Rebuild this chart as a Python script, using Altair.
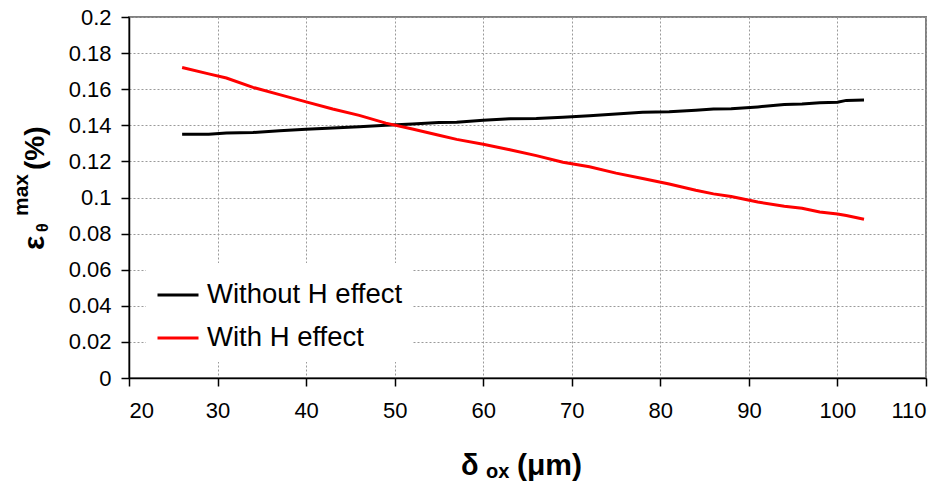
import altair as alt
import pandas as pd

# Oxide thickness (µm) and maximum hoop strain (%) for both cases
delta_ox = [26, 29, 31, 34, 37, 40, 43, 46, 49, 52, 55, 57, 60, 63, 66,
            69, 72, 75, 78, 81, 84, 86, 88, 91, 94, 96, 98, 100, 101, 103]
strain_without_h = [0.1350, 0.1350, 0.1358, 0.1360, 0.1370, 0.1378, 0.1385,
                    0.1392, 0.1400, 0.1407, 0.1415, 0.1417, 0.1428, 0.1436,
                    0.1437, 0.1445, 0.1453, 0.1462, 0.1472, 0.1475, 0.1483,
                    0.1490, 0.1492, 0.1502, 0.1515, 0.1518, 0.1525, 0.1528,
                    0.1538, 0.1540]
strain_with_h = [0.1720, 0.1685, 0.1662, 0.1610, 0.1570, 0.1530, 0.1490,
                 0.1455, 0.1412, 0.1380, 0.1345, 0.1322, 0.1295, 0.1265,
                 0.1232, 0.1195, 0.1170, 0.1135, 0.1105, 0.1075, 0.1040,
                 0.1020, 0.1005, 0.0975, 0.0952, 0.0940, 0.0920, 0.0908,
                 0.0900, 0.0880]
series_names = ["Without H effect", "With H effect"]
series_colors = ["#000000", "#ff0000"]
x_ticks = [20, 30, 40, 50, 60, 70, 80, 90, 100, 110]
y_ticks = [0, 0.02, 0.04, 0.06, 0.08, 0.1, 0.12, 0.14, 0.16, 0.18, 0.2]

rows = []
for name, vals in zip(series_names, [strain_without_h, strain_with_h]):
    for x, y in zip(delta_ox, vals):
        rows.append({"delta": x, "strain": y, "series": name})
df = pd.DataFrame(rows)

FONT = "Liberation Sans"
W, H = 797, 361
PAD_L, PAD_T = 129, 17

axis_style = dict(
    labelFont=FONT, labelFontSize=22, labelColor="black",
    domainColor="black", domainWidth=1.5,
    tickColor="black", tickWidth=1.5, tickSize=8,
    gridColor="#9a9a9a", gridDash=[2, 2], gridWidth=1,
)

lines = alt.Chart(df).mark_line(strokeWidth=3).encode(
    x=alt.X("delta:Q",
            scale=alt.Scale(domain=[20, 110], nice=False, zero=False),
            axis=alt.Axis(values=x_ticks, title=None, labelPadding=14,
                          **axis_style)),
    y=alt.Y("strain:Q",
            scale=alt.Scale(domain=[0, 0.2], nice=False),
            axis=alt.Axis(values=y_ticks, title=None, format="~g",
                          labelPadding=10, **axis_style)),
    color=alt.Color("series:N",
                    scale=alt.Scale(domain=series_names, range=series_colors),
                    legend=alt.Legend(title=None, orient="none",
                                      legendX=17, legendY=246,
                                      fillColor="white", padding=10,
                                      symbolType="stroke", symbolSize=1681,
                                      symbolStrokeWidth=3, labelFontSize=27.5,
                                      labelFont=FONT, labelColor="black",
                                      labelLimit=0,
                                      labelOffset=7, rowPadding=7)),
    order=alt.Order("delta:Q"),
)


def label(text, px, py, size, angle=0, align="left"):
    """Place a piece of axis-title text (baseline anchored) at a pixel position."""
    return alt.Chart(pd.DataFrame({"t": [text]})).mark_text(
        font=FONT, fontWeight="bold", fontSize=size, angle=angle,
        align=align, baseline="alphabetic", color="black",
    ).encode(
        x=alt.value(px - PAD_L), y=alt.value(py - PAD_T), text="t:N"
    )


# y title: epsilon_theta^max (%), reading bottom-to-top
y_title = [
    label("ε", 44, 250, 30, 270),
    label("θ", 48, 232, 16, 270),
    label("max", 28, 216, 21, 270),
    label("(%)", 44, 170, 28, 270),
]
# x title: delta_ox (µm)
x_title = [
    label("δ", 461, 475, 29),
    label("ox", 486, 478, 20),
    label("(μm)", 517, 475, 30),
]

chart = alt.layer(lines, *y_title, *x_title).properties(
    width=W, height=H,
    autosize=alt.AutoSizeParams(type="none"),
    padding={"left": PAD_L, "top": PAD_T, "right": 950 - PAD_L - W,
             "bottom": 483 - PAD_T - H},
    background="white",
).configure_view(
    stroke="#808080", strokeWidth=2
)

chart.save("out.html", embed_options={"renderer": "svg", "actions": False})
